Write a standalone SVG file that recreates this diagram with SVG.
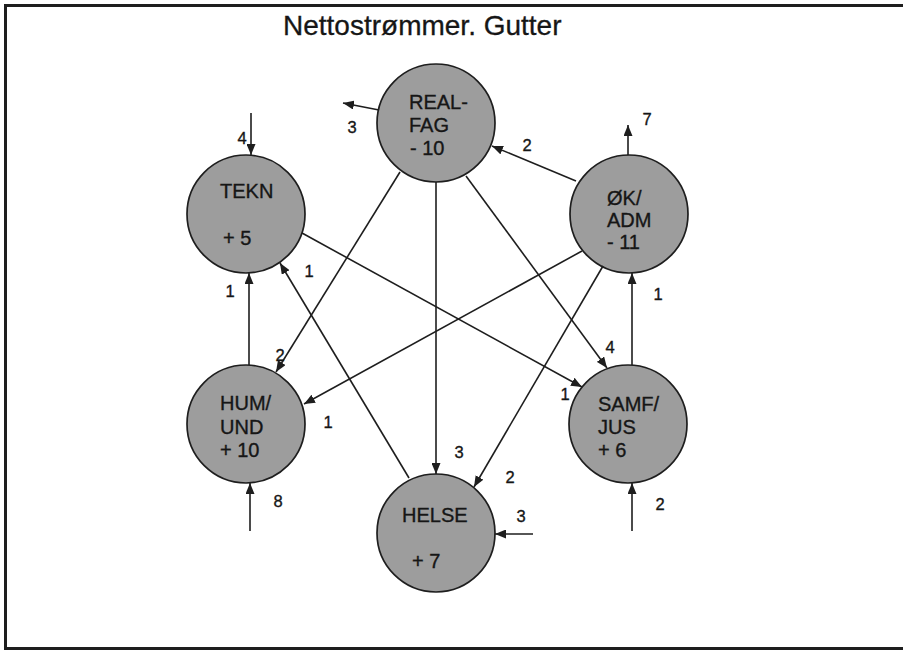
<svg xmlns="http://www.w3.org/2000/svg" width="903" height="650" viewBox="0 0 903 650">
  <style>
    .node circle { fill: #9d9d9d; stroke: #1e1e1e; stroke-width: 1.7; }
    .node text { font-family: "Liberation Sans", Arial, sans-serif; font-size: 20px; fill: #161616; stroke: #161616; stroke-width: 0.35; }
    .edge { stroke: #1e1e1e; stroke-width: 1.6; fill: none; marker-end: url(#arrow); }
    .lbl { font-family: "Liberation Sans", Arial, sans-serif; font-size: 16.5px; fill: #161616; stroke: #161616; stroke-width: 0.35; text-anchor: middle; }
    .title { font-family: "Liberation Sans", Arial, sans-serif; font-size: 28px; fill: #161616; stroke: #161616; stroke-width: 0.3; }
    .frame { stroke: #1e1e1e; stroke-width: 3; fill: none; }
  </style>
  <defs>
    <marker id="arrow" viewBox="0 0 11 9" refX="11" refY="4.5" markerWidth="11" markerHeight="9" markerUnits="userSpaceOnUse" orient="auto">
      <path d="M0,0 L11,4.5 L0,9 Z" fill="#1e1e1e"/>
    </marker>
  </defs>

  <rect width="903" height="650" fill="#ffffff"/>

  <!-- frame: top, left and bottom rules -->
  <path class="frame" d="M903,5.5 L5.5,5.5 L5.5,648.5 L903,648.5"/>

  <text class="title" x="283" y="35">Nettostrømmer. Gutter</text>

  <!-- nodes -->
  <g id="realfag" class="node">
    <circle cx="436" cy="123" r="59"/>
    <text x="409" y="109">REAL-</text>
    <text x="409" y="132">FAG</text>
    <text x="410" y="155">- 10</text>
  </g>
  <g id="tekn" class="node">
    <circle cx="246" cy="214" r="59"/>
    <text x="220" y="198">TEKN</text>
    <text x="223" y="245">+ 5</text>
  </g>
  <g id="okadm" class="node">
    <circle cx="629" cy="214" r="59"/>
    <text x="607" y="205">ØK/</text>
    <text x="607" y="227">ADM</text>
    <text x="607" y="249">- 11</text>
  </g>
  <g id="humund" class="node">
    <circle cx="246" cy="424" r="59"/>
    <text x="220" y="410">HUM/</text>
    <text x="220" y="434">UND</text>
    <text x="220" y="457">+ 10</text>
  </g>
  <g id="samfjus" class="node">
    <circle cx="628" cy="424" r="59"/>
    <text x="598" y="411">SAMF/</text>
    <text x="598" y="434">JUS</text>
    <text x="598" y="457">+ 6</text>
  </g>
  <g id="helse" class="node">
    <circle cx="436" cy="533" r="59"/>
    <text x="402" y="522">HELSE</text>
    <text x="412" y="568">+ 7</text>
  </g>

  <!-- connectors -->
  <g id="connectors">
    <path class="edge" d="M379,110 L343,103"/>
    <path class="edge" d="M251,113 L251,155"/>
    <path class="edge" d="M576,181 L492,146"/>
    <path class="edge" d="M628,155 L628,125"/>
    <path class="edge" d="M632,365 L632,273"/>
    <path class="edge" d="M249,365 L249,273"/>
    <path class="edge" d="M409,478 L280,263"/>
    <path class="edge" d="M400,172 L276,372"/>
    <path class="edge" d="M582,251 L304,404"/>
    <path class="edge" d="M436,182 L436,474"/>
    <path class="edge" d="M302,233 L582,387"/>
    <path class="edge" d="M466,176 L607,368"/>
    <path class="edge" d="M603,266 L474,487"/>
    <path class="edge" d="M533,534 L495,534"/>
    <path class="edge" d="M250,531 L250,483"/>
    <path class="edge" d="M632,531 L632,483"/>
  </g>

  <!-- flow counts -->
  <g id="labels">
    <text class="lbl" x="352" y="133">3</text>
    <text class="lbl" x="242" y="144">4</text>
    <text class="lbl" x="527" y="151">2</text>
    <text class="lbl" x="647" y="125">7</text>
    <text class="lbl" x="658" y="300">1</text>
    <text class="lbl" x="230" y="297">1</text>
    <text class="lbl" x="309" y="277">1</text>
    <text class="lbl" x="280" y="361">2</text>
    <text class="lbl" x="328" y="428">1</text>
    <text class="lbl" x="459" y="458">3</text>
    <text class="lbl" x="565" y="400">1</text>
    <text class="lbl" x="610" y="353">4</text>
    <text class="lbl" x="510" y="483">2</text>
    <text class="lbl" x="521" y="522">3</text>
    <text class="lbl" x="278" y="507">8</text>
    <text class="lbl" x="660" y="510">2</text>
  </g>
</svg>
